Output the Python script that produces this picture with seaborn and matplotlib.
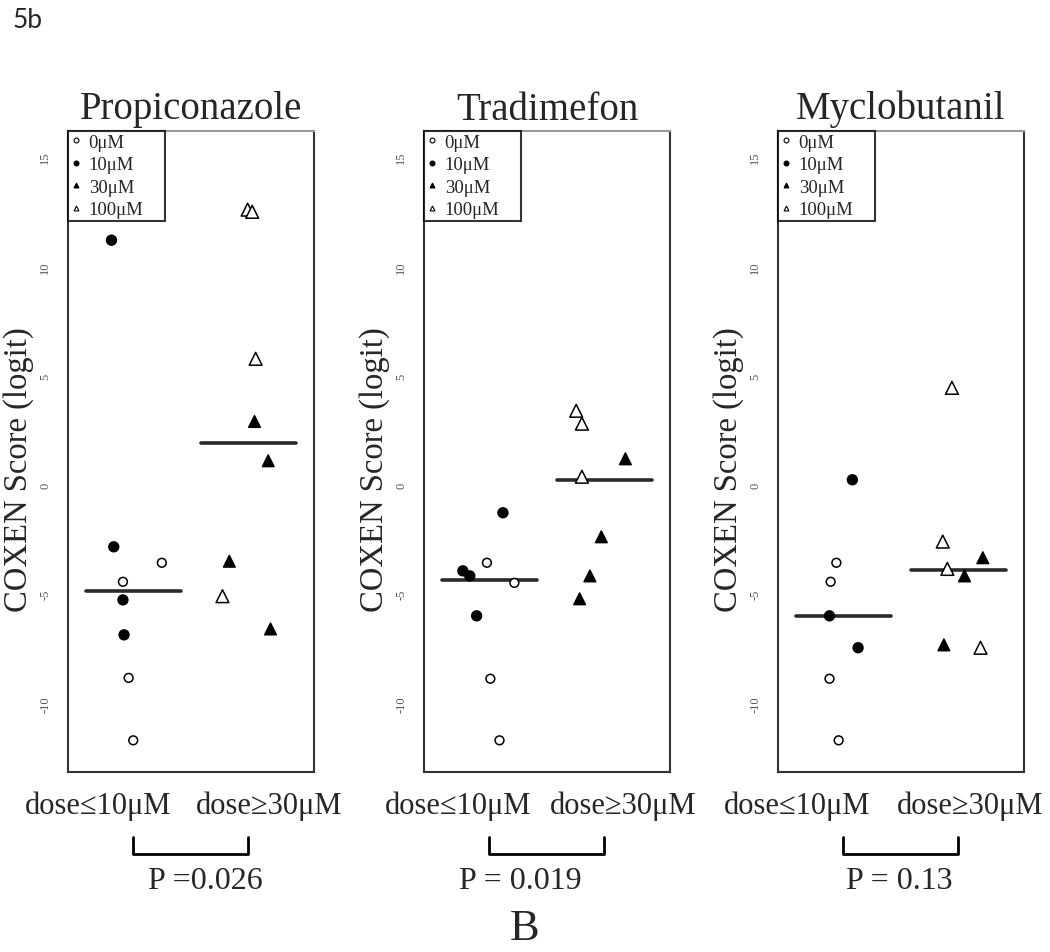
import numpy as np
import pandas as pd
import matplotlib
matplotlib.use('Agg')
import matplotlib.pyplot as plt
import matplotlib.transforms as mtransforms
from matplotlib.lines import Line2D
import seaborn as sns

# datos (x = grupo 1 o 2 con dispersion, y = COXEN score)
compuestos = ['Propiconazole', 'Tradimefon', 'Myclobutanil']
grupos = ['dose\u226410\u03bcM', 'dose\u226530\u03bcM']
dosis = ['0\u03bcM', '10\u03bcM', '30\u03bcM', '100\u03bcM']
p_valores = ['P =0.026', 'P = 0.019', 'P = 0.13']

prop_x = [0.81, 0.83, 1.25, 0.91, 0.91, 0.92, 0.96, 1.00,
          2.00, 2.04, 2.07, 2.06, 2.18, 1.84, 1.78, 2.20]
prop_y = [11.2, -2.84, -3.57, -4.44, -5.27, -6.87, -8.84, -11.7,
          12.6, 12.5, 5.77, 2.9, 1.1, -3.5, -5.1, -6.6]
prop_dosis = ['10', '10', '0', '0', '10', '10', '0', '0',
              '100', '100', '100', '30', '30', '30', '100', '30']

trad_x = [1.12, 0.98, 0.77, 0.83, 1.22, 0.89, 1.01, 1.09,
          1.76, 1.81, 2.19, 1.81, 1.98, 1.88, 1.79]
trad_y = [-1.28, -3.57, -3.94, -4.17, -4.49, -6.0, -8.88, -11.7,
          3.39, 2.8, 1.19, 0.37, -2.38, -4.17, -5.22]
trad_dosis = ['10', '0', '10', '10', '0', '10', '0', '0',
              '100', '100', '30', '100', '30', '30', '30']

mycl_x = [1.08, 0.94, 0.89, 0.88, 1.13, 0.88, 0.96,
          1.95, 1.87, 2.22, 1.91, 2.06, 1.88, 2.20]
mycl_y = [0.23, -3.57, -4.44, -6.0, -7.46, -8.88, -11.7,
          4.44, -2.6, -3.34, -3.85, -4.17, -7.33, -7.46]
mycl_dosis = ['10', '0', '0', '10', '10', '0', '0',
              '100', '100', '30', '100', '30', '30', '100']

# medianas por grupo (lineas horizontales)
medianas = [[-4.85, 1.92], [-4.35, 0.23], [-6.0, -3.89]]
p_texto_x = [1.63, 1.27, 1.49]
# centros de las etiquetas de grupo (en unidades del eje x)
etiqueta_x = [[0.69, 2.19], [0.73, 2.17], [0.60, 2.11]]

datos = [(prop_x, prop_y, prop_dosis), (trad_x, trad_y, trad_dosis),
         (mycl_x, mycl_y, mycl_dosis)]

sns.set_style('white')
plt.rcParams['font.family'] = ['Liberation Serif', 'DejaVu Serif']

marcadores = {'0\u03bcM': 'o', '10\u03bcM': 'o', '30\u03bcM': '^', '100\u03bcM': '^'}
relleno = {'0\u03bcM': 'white', '10\u03bcM': 'black', '30\u03bcM': 'black', '100\u03bcM': 'white'}
tamanos = {'0\u03bcM': 40, '10\u03bcM': 50, '30\u03bcM': 70, '100\u03bcM': 85}

fig = plt.figure(figsize=(10.5, 9.53), dpi=100)
izquierdas = [68, 424, 778]

for i, (xs, ys, ds) in enumerate(datos):
    ax = fig.add_axes([izquierdas[i] / 1050, 1 - 773 / 953, 246 / 1050, 641 / 953])
    df = pd.DataFrame({'x': xs, 'y': ys, 'dosis': [d + '\u03bcM' for d in ds]})
    sns.scatterplot(data=df, x='x', y='y', hue='dosis', style='dosis', size='dosis',
                    sizes=tamanos, markers=marcadores, palette=relleno,
                    edgecolor='black', linewidth=1.1, legend=False, ax=ax, zorder=3)

    # lineas de la mediana
    for g, m in enumerate(medianas[i]):
        ax.plot([g + 1 - 0.41, g + 1 + 0.42], [m, m], color='#2a2a2a', lw=2.6, zorder=2)

    ax.set_xlim(0.43, 2.58)
    ax.set_ylim(-13.15, 16.2)
    ax.set_xticks([1, 2])
    ax.set_xticklabels(['', ''])
    ax.set_yticks([-10, -5, 0, 5, 10, 15])
    ax.set_yticklabels(['-10', '-5', '0', '5', '10', '15'], rotation=90, va='center',
                       fontsize=9, color='#555555')
    ax.tick_params(axis='x', length=8, width=1.2, color='#444444')
    ax.tick_params(axis='y', length=8, width=1.2, pad=4, color='#777777')
    ax.set_xlabel('')
    ax.set_ylabel('COXEN Score (logit)', fontsize=23.5)
    ax.yaxis.set_label_coords(-0.138, 0.473)
    ax.set_title(compuestos[i], fontsize=28, pad=9)
    for lado in ax.spines.values():
        lado.set_color('#333333')
        lado.set_linewidth(1.5)
    ax.spines['top'].set_color('#999999')

    # leyenda
    manejadores = [Line2D([], [], ls='', marker=marcadores[d], markersize=3.5,
                          markerfacecolor=relleno[d], markeredgecolor='black',
                          markeredgewidth=0.8, label=d) for d in dosis]
    leg = ax.legend(handles=manejadores, loc='upper left', mode='expand',
                    bbox_to_anchor=(0, 0.5, 97 / 246, 0.5), borderaxespad=0,
                    fontsize=13.5, frameon=True, fancybox=False, handlelength=0.5,
                    handletextpad=0.45, borderpad=0.15, labelspacing=0.28)
    leg.get_frame().set_edgecolor('black')
    leg.get_frame().set_linewidth(1.5)

    trans = mtransforms.blended_transform_factory(ax.transData, fig.transFigure)

    # etiquetas de grupo
    for g in range(2):
        ax.text(etiqueta_x[i][g], 1 - 806 / 953, grupos[g], transform=trans,
                ha='center', va='center', fontsize=22)

    # corchete y valor P
    y_arriba, y_abajo = 1 - 838 / 953, 1 - 855 / 953
    ax.plot([1, 1, 2, 2], [y_arriba, y_abajo, y_abajo, y_arriba], color='black',
            lw=2, transform=trans, clip_on=False)
    ax.text(p_texto_x[i], 1 - 882 / 953, p_valores[i], transform=trans,
            ha='center', va='center', fontsize=23)

fig.text(0.5, 1 - 940 / 953, 'B', ha='center', va='baseline', fontsize=32)
fig.text(0.012, 1 - 21 / 953, '5b', ha='left', va='center', fontsize=19,
         family=['Lato', 'DejaVu Sans'])

fig.savefig('out.png', dpi=100)
